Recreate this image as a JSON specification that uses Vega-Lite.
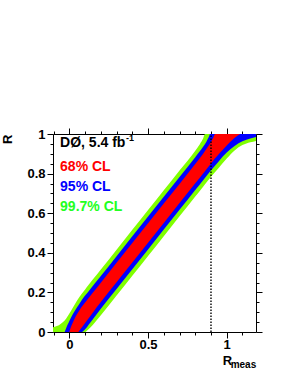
{
  "$schema": "https://vega.github.io/schema/vega-lite/v6.json",
  "width": 203,
  "height": 198,
  "autosize": {"type": "none"},
  "padding": {"left": 53, "top": 134, "right": 35, "bottom": 44},
  "background": "white",
  "view": {"stroke": null},
  "config": {
    "font": "Liberation Sans",
    "axis": {
      "labelFont": "Liberation Sans", "labelFontWeight": "bold", "labelFontSize": 13, "labelColor": "black",
      "titleFont": "Liberation Sans", "titleFontWeight": "bold", "titleFontSize": 13, "titleColor": "black",
      "domainColor": "black", "tickColor": "black", "grid": false, "zindex": 1
    }
  },
  "datasets": {
    "green": [
      {"x": -0.104, "lo": 0, "hi": 0.024}, {"x": -0.08, "lo": 0, "hi": 0.03}, {"x": -0.06, "lo": 0, "hi": 0.038},
      {"x": -0.04, "lo": 0, "hi": 0.05}, {"x": -0.02, "lo": 0, "hi": 0.068}, {"x": 0, "lo": 0, "hi": 0.093},
      {"x": 0.02, "lo": 0, "hi": 0.12}, {"x": 0.05, "lo": 0, "hi": 0.16}, {"x": 0.08, "lo": 0, "hi": 0.194},
      {"x": 0.1, "lo": 0, "hi": 0.215}, {"x": 0.12, "lo": 0.012, "hi": 0.236}, {"x": 0.15, "lo": 0.037, "hi": 0.266},
      {"x": 0.2, "lo": 0.084, "hi": 0.316}, {"x": 0.3, "lo": 0.184, "hi": 0.416}, {"x": 0.4, "lo": 0.284, "hi": 0.516},
      {"x": 0.5, "lo": 0.384, "hi": 0.616}, {"x": 0.6, "lo": 0.484, "hi": 0.716}, {"x": 0.7, "lo": 0.584, "hi": 0.816},
      {"x": 0.8, "lo": 0.684, "hi": 0.916}, {"x": 0.83, "lo": 0.714, "hi": 0.95}, {"x": 0.85, "lo": 0.734, "hi": 0.977},
      {"x": 0.862, "lo": 0.746, "hi": 1}, {"x": 0.9, "lo": 0.784, "hi": 1}, {"x": 0.95, "lo": 0.83, "hi": 1},
      {"x": 1.0, "lo": 0.876, "hi": 1}, {"x": 1.05, "lo": 0.917, "hi": 1}, {"x": 1.1, "lo": 0.944, "hi": 1},
      {"x": 1.15, "lo": 0.958, "hi": 1}, {"x": 1.186, "lo": 0.965, "hi": 1}
    ],
    "blue": [
      {"x": -0.03, "lo": 0, "hi": 0}, {"x": -0.02, "lo": 0, "hi": 0.02}, {"x": -0.01, "lo": 0, "hi": 0.039},
      {"x": 0, "lo": 0, "hi": 0.056}, {"x": 0.02, "lo": 0, "hi": 0.087}, {"x": 0.04, "lo": 0, "hi": 0.114},
      {"x": 0.06, "lo": 0, "hi": 0.138}, {"x": 0.078, "lo": 0, "hi": 0.16}, {"x": 0.1, "lo": 0.014, "hi": 0.184},
      {"x": 0.13, "lo": 0.044, "hi": 0.214}, {"x": 0.2, "lo": 0.117, "hi": 0.283}, {"x": 0.3, "lo": 0.217, "hi": 0.383},
      {"x": 0.5, "lo": 0.417, "hi": 0.583}, {"x": 0.7, "lo": 0.617, "hi": 0.783}, {"x": 0.8, "lo": 0.717, "hi": 0.883},
      {"x": 0.85, "lo": 0.767, "hi": 0.935}, {"x": 0.87, "lo": 0.787, "hi": 0.96}, {"x": 0.885, "lo": 0.802, "hi": 0.983},
      {"x": 0.895, "lo": 0.812, "hi": 1}, {"x": 0.95, "lo": 0.863, "hi": 1}, {"x": 1.0, "lo": 0.906, "hi": 1},
      {"x": 1.05, "lo": 0.94, "hi": 1}, {"x": 1.1, "lo": 0.963, "hi": 1}, {"x": 1.15, "lo": 0.977, "hi": 1},
      {"x": 1.186, "lo": 0.985, "hi": 1}
    ],
    "red": [
      {"x": 0, "lo": 0, "hi": 0}, {"x": 0.01, "lo": 0, "hi": 0.025}, {"x": 0.02, "lo": 0, "hi": 0.044},
      {"x": 0.04, "lo": 0, "hi": 0.078}, {"x": 0.055, "lo": 0, "hi": 0.098}, {"x": 0.07, "lo": 0.014, "hi": 0.118},
      {"x": 0.1, "lo": 0.046, "hi": 0.149}, {"x": 0.15, "lo": 0.099, "hi": 0.199}, {"x": 0.2, "lo": 0.151, "hi": 0.249},
      {"x": 0.4, "lo": 0.351, "hi": 0.449}, {"x": 0.6, "lo": 0.551, "hi": 0.649}, {"x": 0.8, "lo": 0.751, "hi": 0.849},
      {"x": 0.85, "lo": 0.801, "hi": 0.9}, {"x": 0.88, "lo": 0.831, "hi": 0.935}, {"x": 0.9, "lo": 0.851, "hi": 0.96},
      {"x": 0.915, "lo": 0.866, "hi": 0.982}, {"x": 0.926, "lo": 0.877, "hi": 1}, {"x": 0.95, "lo": 0.899, "hi": 1},
      {"x": 1.0, "lo": 0.942, "hi": 1}, {"x": 1.04, "lo": 0.973, "hi": 1}, {"x": 1.07, "lo": 0.993, "hi": 1},
      {"x": 1.085, "lo": 1, "hi": 1}
    ],
    "meas": [{"x": 0.9, "y0": 0, "y1": 1}],
    "labels": [
      {"x": -0.059, "y": 0.956, "t": "DØ, 5.4 fb"},
      {"x": -0.059, "y": 0.834, "t": "68% CL"},
      {"x": -0.059, "y": 0.734, "t": "95% CL"},
      {"x": -0.059, "y": 0.633, "t": "99.7% CL"}
    ],
    "sup": [{"x": 0.36, "y": 0.978, "t": "-1"}],
    "xtitle": [{"x": 0.975, "y": -0.146, "t": "R"}],
    "xsub": [{"x": 1.025, "y": -0.168, "t": "meas"}]
  },
  "resolve": {"axis": {"x": "independent", "y": "independent"}},
  "layer": [
    {
      "data": {"name": "green"},
      "mark": {"type": "area", "color": "#80ff00", "interpolate": "monotone", "clip": true},
      "encoding": {
        "x": {"field": "x", "type": "quantitative", "scale": {"domain": [-0.104, 1.186], "nice": false, "zero": false},
          "axis": {"orient": "bottom", "title": null, "format": "~g",
            "values": [-0.1, 0, 0.1, 0.2, 0.3, 0.4, 0.5, 0.6, 0.7, 0.8, 0.9, 1, 1.1],
            "labelExpr": "abs(datum.value*2 - round(datum.value*2)) < 0.000001 ? datum.label : ''",
            "tickSize": {"condition": {"test": "abs(datum.value*2 - round(datum.value*2)) < 0.000001", "value": 6}, "value": 3},
            "labelPadding": 0}},
        "y": {"field": "lo", "type": "quantitative", "scale": {"domain": [0, 1], "nice": false, "zero": false},
          "axis": {"orient": "left", "title": "R", "format": "~g", "titleAnchor": "end", "titlePadding": 12,
            "values": [0, 0.05, 0.1, 0.15, 0.2, 0.25, 0.3, 0.35, 0.4, 0.45, 0.5, 0.55, 0.6, 0.65, 0.7, 0.75, 0.8, 0.85, 0.9, 0.95, 1],
            "labelExpr": "abs(datum.value*5 - round(datum.value*5)) < 0.000001 ? datum.label : ''",
            "tickSize": {"condition": {"test": "abs(datum.value*5 - round(datum.value*5)) < 0.000001", "value": 6}, "value": 3},
            "labelPadding": 2}},
        "y2": {"field": "hi"}
      }
    },
    {
      "data": {"name": "blue"},
      "mark": {"type": "area", "color": "#0000ff", "interpolate": "monotone", "clip": true},
      "encoding": {
        "x": {"field": "x", "type": "quantitative", "scale": {"domain": [-0.104, 1.186], "nice": false, "zero": false}, "axis": null},
        "y": {"field": "lo", "type": "quantitative", "scale": {"domain": [0, 1], "nice": false, "zero": false}, "axis": null},
        "y2": {"field": "hi"}
      }
    },
    {
      "data": {"name": "red"},
      "mark": {"type": "area", "color": "#ff0000", "interpolate": "monotone", "clip": true},
      "encoding": {
        "x": {"field": "x", "type": "quantitative", "scale": {"domain": [-0.104, 1.186], "nice": false, "zero": false}, "axis": null},
        "y": {"field": "lo", "type": "quantitative", "scale": {"domain": [0, 1], "nice": false, "zero": false}, "axis": null},
        "y2": {"field": "hi"}
      }
    },
    {
      "data": {"name": "meas"},
      "mark": {"type": "rule", "color": "black", "strokeWidth": 1.4, "strokeDash": [1.5, 1.5]},
      "encoding": {
        "x": {"field": "x", "type": "quantitative", "scale": {"domain": [-0.104, 1.186], "nice": false, "zero": false},
          "axis": {"orient": "top", "title": null, "labels": false,
            "values": [-0.1, 0, 0.1, 0.2, 0.3, 0.4, 0.5, 0.6, 0.7, 0.8, 0.9, 1, 1.1],
            "tickSize": {"condition": {"test": "abs(datum.value*2 - round(datum.value*2)) < 0.000001", "value": 6}, "value": 3}}},
        "y": {"field": "y0", "type": "quantitative", "scale": {"domain": [0, 1], "nice": false, "zero": false},
          "axis": {"orient": "right", "title": null, "labels": false,
            "values": [0, 0.05, 0.1, 0.15, 0.2, 0.25, 0.3, 0.35, 0.4, 0.45, 0.5, 0.55, 0.6, 0.65, 0.7, 0.75, 0.8, 0.85, 0.9, 0.95, 1],
            "tickSize": {"condition": {"test": "abs(datum.value*5 - round(datum.value*5)) < 0.000001", "value": 6}, "value": 3}}},
        "y2": {"field": "y1"}
      }
    },
    {
      "data": {"name": "labels"},
      "mark": {"type": "text", "align": "left", "baseline": "middle", "font": "Liberation Sans", "fontWeight": "bold", "fontSize": 14},
      "encoding": {
        "x": {"field": "x", "type": "quantitative", "scale": {"domain": [-0.104, 1.186], "nice": false, "zero": false}, "axis": null},
        "y": {"field": "y", "type": "quantitative", "scale": {"domain": [0, 1], "nice": false, "zero": false}, "axis": null},
        "text": {"field": "t"},
        "color": {"field": "t", "type": "nominal", "legend": null,
          "scale": {"domain": ["DØ, 5.4 fb", "68% CL", "95% CL", "99.7% CL"], "range": ["#000000", "#ff0000", "#0000ff", "#22ff22"]}}
      }
    },
    {
      "data": {"name": "sup"},
      "mark": {"type": "text", "align": "left", "baseline": "middle", "font": "Liberation Sans", "fontWeight": "bold", "fontSize": 9, "color": "black"},
      "encoding": {
        "x": {"field": "x", "type": "quantitative", "scale": {"domain": [-0.104, 1.186], "nice": false, "zero": false}, "axis": null},
        "y": {"field": "y", "type": "quantitative", "scale": {"domain": [0, 1], "nice": false, "zero": false}, "axis": null},
        "text": {"field": "t"}
      }
    },
    {
      "data": {"name": "xtitle"},
      "mark": {"type": "text", "align": "left", "baseline": "middle", "font": "Liberation Sans", "fontWeight": "bold", "fontSize": 13, "color": "black"},
      "encoding": {
        "x": {"field": "x", "type": "quantitative", "scale": {"domain": [-0.104, 1.186], "nice": false, "zero": false}, "axis": null},
        "y": {"field": "y", "type": "quantitative", "scale": {"domain": [0, 1], "nice": false, "zero": false}, "axis": null},
        "text": {"field": "t"}
      }
    },
    {
      "data": {"name": "xsub"},
      "mark": {"type": "text", "align": "left", "baseline": "middle", "font": "Liberation Sans", "fontWeight": "bold", "fontSize": 10, "color": "black"},
      "encoding": {
        "x": {"field": "x", "type": "quantitative", "scale": {"domain": [-0.104, 1.186], "nice": false, "zero": false}, "axis": null},
        "y": {"field": "y", "type": "quantitative", "scale": {"domain": [0, 1], "nice": false, "zero": false}, "axis": null},
        "text": {"field": "t"}
      }
    }
  ]
}
